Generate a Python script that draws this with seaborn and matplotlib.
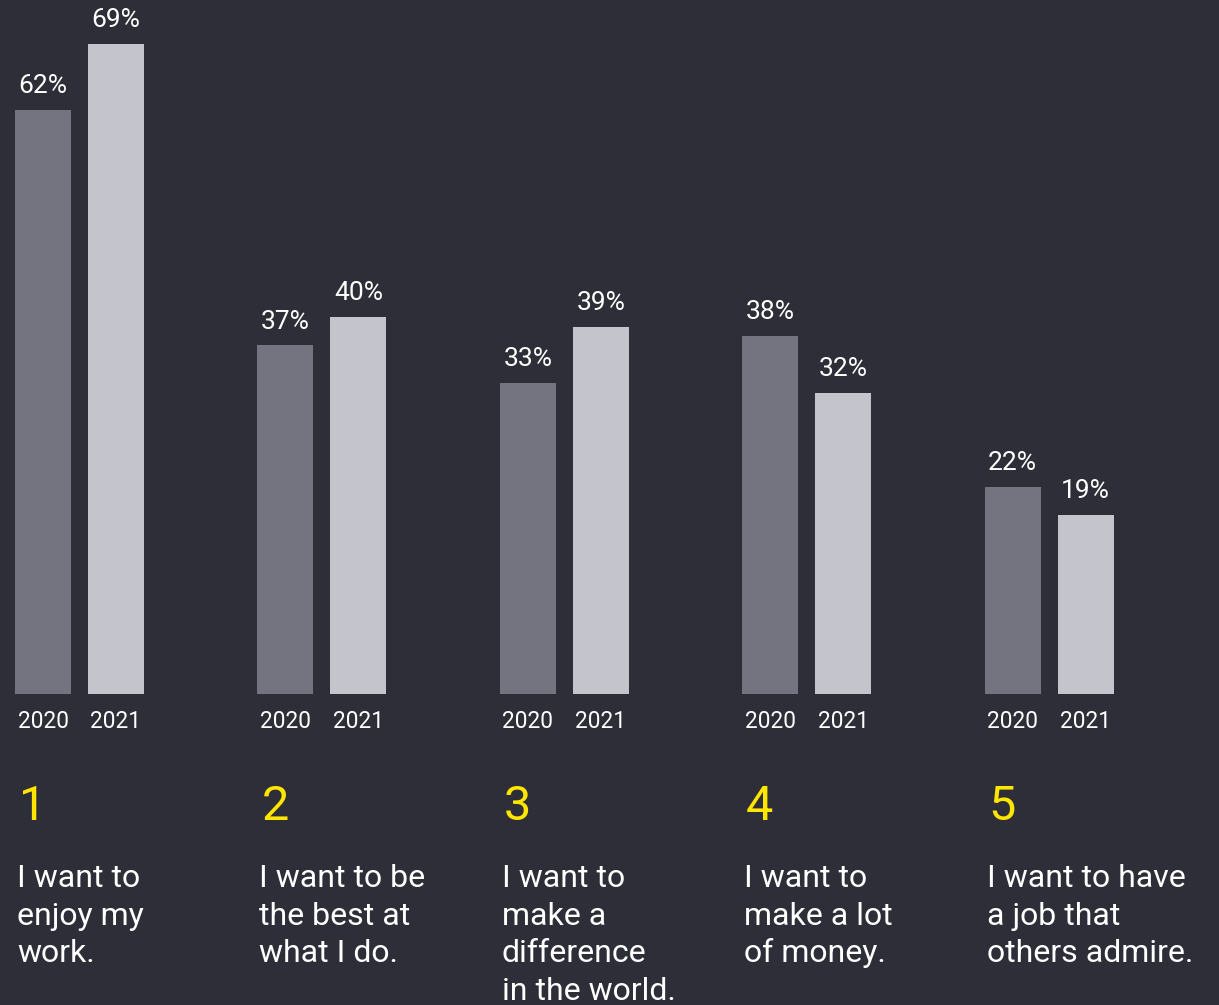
import matplotlib
matplotlib.use("Agg")
import matplotlib.pyplot as plt
import seaborn as sns
import pandas as pd

# ---- data ----
ranks = ["1", "2", "3", "4", "5"]
categories = [
    "I want to\nenjoy my\nwork.",
    "I want to be\nthe best at\nwhat I do.",
    "I want to\nmake a\ndifference\nin the world.",
    "I want to\nmake a lot\nof money.",
    "I want to have\na job that\nothers admire.",
]
years = ["2020", "2021"]
values_2020 = [62, 37, 33, 38, 22]
values_2021 = [69, 40, 39, 32, 19]

# ---- style ----
BG = "#2e2e38"
C2020 = "#747480"
C2021 = "#c4c4cd"
YELLOW = "#ffe600"
WHITE = "#ffffff"

sns.set_theme(style="white")
plt.rcParams["font.family"] = ["Roboto", "DejaVu Sans"]

rows = []
for cat, v0, v1 in zip(categories, values_2020, values_2021):
    rows.append({"category": cat, "year": years[0], "value": v0})
    rows.append({"category": cat, "year": years[1], "value": v1})
df = pd.DataFrame(rows)

fig = plt.figure(figsize=(12.19, 10.05), dpi=100, facecolor=BG)
ax = fig.add_axes([0, 0, 1, 1])
ax.set_facecolor(BG)

sns.barplot(data=df, x="category", y="value", hue="year", order=categories,
            hue_order=years, palette=[C2020, C2021], width=0.602, gap=0.233,
            saturation=1, legend=False, errorbar=None, linewidth=0,
            edgecolor="none", ax=ax)

ax.set_xlim(-0.328, 4.701)
ax.set_ylim(-33.01, 73.67)
ax.axis("off")

# bar annotations
for container, yr in zip(ax.containers, years):
    for bar in container:
        cx = bar.get_x() + bar.get_width() / 2
        h = bar.get_height()
        ax.annotate(f"{h:.0f}%", xy=(cx, h), xytext=(0, 12.2),
                    textcoords="offset points", ha="center", va="baseline",
                    fontsize=19, color=WHITE)
        ax.annotate(yr, xy=(cx, 277), xycoords=("data", "figure pixels"),
                    ha="center", va="baseline", fontsize=16.3, color=WHITE)

# rank numbers and category descriptions
first_bars = list(ax.containers[0])
line_baselines = [118, 80.5, 43, 5.5]
for bar, rank, cat in zip(first_bars, ranks, categories):
    left = bar.get_x()
    ax.annotate(rank, xy=(left, 185), xycoords=("data", "figure pixels"),
                xytext=(4, 0), textcoords="offset pixels",
                ha="left", va="baseline", fontsize=35, color=YELLOW)
    for line, yb in zip(cat.split("\n"), line_baselines):
        ax.annotate(line, xy=(left, yb), xycoords=("data", "figure pixels"),
                    xytext=(2, 0), textcoords="offset pixels",
                    ha="left", va="baseline", fontsize=23, color=WHITE)

fig.savefig("out.png", dpi=100, facecolor=BG)
